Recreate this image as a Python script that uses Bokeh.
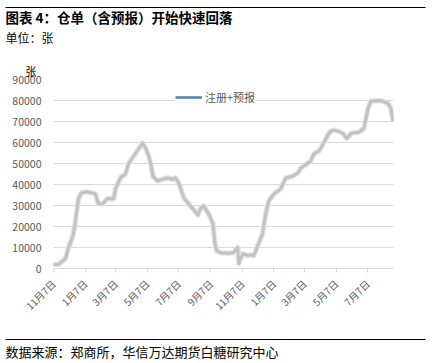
import math
import pandas as pd
from bokeh.plotting import figure
from bokeh.layouts import column
from bokeh.models import Range1d, FixedTicker, Legend, LegendItem, ColumnDataSource
from bokeh.core.properties import value
from bokeh.embed import file_html
from bokeh.resources import INLINE

# ---------------- data ----------------
dates = [
    "2016-11-07", "2016-11-17", "2016-11-24", "2016-11-30", "2016-12-06", "2016-12-14",
    "2016-12-18", "2016-12-22", "2016-12-25", "2016-12-31", "2017-01-10", "2017-01-21",
    "2017-01-27", "2017-01-31", "2017-02-02", "2017-02-10", "2017-02-16", "2017-02-19",
    "2017-03-03", "2017-03-07", "2017-03-11", "2017-03-17", "2017-03-26", "2017-04-01",
    "2017-04-11", "2017-04-20", "2017-04-28", "2017-05-04", "2017-05-10", "2017-05-14",
    "2017-05-18", "2017-05-27", "2017-06-08", "2017-06-16", "2017-06-25", "2017-07-01",
    "2017-07-07", "2017-07-17", "2017-07-26", "2017-08-05", "2017-08-13", "2017-08-18",
    "2017-08-24", "2017-09-03", "2017-09-11", "2017-09-15", "2017-09-18", "2017-09-26",
    "2017-10-12", "2017-10-21", "2017-10-29", "2017-10-31", "2017-11-04", "2017-11-08",
    "2017-11-17", "2017-11-23", "2017-11-29", "2017-12-09", "2017-12-16", "2017-12-22",
    "2017-12-28", "2018-01-07", "2018-01-20", "2018-01-30", "2018-02-12", "2018-02-22",
    "2018-02-28", "2018-03-10", "2018-03-19", "2018-03-25", "2018-04-04", "2018-04-08",
    "2018-04-13", "2018-04-23", "2018-05-01", "2018-05-11", "2018-05-20", "2018-05-28",
    "2018-06-05", "2018-06-20", "2018-06-30", "2018-07-08", "2018-07-13", "2018-08-02",
    "2018-08-15", "2018-08-21", "2018-08-25",
]
warrants = [
    1900, 1900, 3500, 4700, 10000, 15000,
    20000, 27500, 33000, 36000, 36500, 36000,
    35500, 32000, 30800, 30800, 32500, 33200,
    33200, 38000, 40300, 43500, 45000, 50000,
    53500, 56800, 59700, 57300, 53500, 50000,
    44000, 41700, 42600, 43100, 42500, 43100,
    40700, 33600, 30800, 28000, 25500, 28500,
    29800, 26000, 21300, 12000, 8500, 7500,
    7300, 7600, 10000, 2400, 5000, 7100,
    6200, 6500, 6200, 12300, 16600, 26000,
    32200, 35500, 37900, 43100, 44000, 45500,
    47800, 49500, 51200, 54500, 56000, 57500,
    59700, 64400, 66000, 65400, 64400, 62000,
    64400, 64900, 66800, 76300, 79600, 80000,
    78600, 76300, 70100,
]
tick_dates = ["2016-11-07", "2017-01-07", "2017-03-07", "2017-05-07", "2017-07-07",
              "2017-09-07", "2017-11-07", "2018-01-07", "2018-03-07", "2018-05-07",
              "2018-07-07"]
tick_labels = ["11月7日", "1月7日", "3月7日", "5月7日", "7月7日", "9月7日",
               "11月7日", "1月7日", "3月7日", "5月7日", "7月7日"]
axis_end_date = "2018-08-26"
y_ticks = [0, 10000, 20000, 30000, 40000, 50000, 60000, 70000, 80000, 90000]
series_name = "注册+预报"
title_text = "图表 4：仓单（含预报）开始快速回落"
unit_text = "单位：张"
y_unit = "张"
source_text = "数据来源：郑商所，华信万达期货白糖研究中心"

start = pd.Timestamp(dates[0])
xs = [(pd.Timestamp(d) - start).days for d in dates]
tick_x = [(pd.Timestamp(d) - start).days for d in tick_dates]
x_end = (pd.Timestamp(axis_end_date) - start).days

CJK = "Noto Sans CJK SC"
GRAY_TXT = "#595959"
W = 438


def blank(height):
    f = figure(width=W, height=height, output_backend="svg", toolbar_location=None,
               x_range=Range1d(0, W), y_range=Range1d(height, 0),
               x_axis_location=None, y_axis_location=None, frame_align=False,
               min_border=0, min_border_left=0, min_border_right=0,
               min_border_top=0, min_border_bottom=0)
    f.grid.visible = False
    f.outline_line_color = None
    f.background_fill_color = "white"
    f.border_fill_color = "white"
    return f


# ---------------- header ----------------
HEAD_H = 60
head = blank(HEAD_H)
head.segment(x0=[5], y0=[7], x1=[425], y1=[7], line_color="black", line_width=1.2)
head.text(x=[5], y=[16.5], text=[title_text], text_font=value(CJK), text_font_size="13.5px",
          text_font_style="bold", text_color="black", text_baseline="middle")
head.text(x=[5], y=[37], text=[unit_text], text_font=value(CJK), text_font_size="12px",
          text_color="black", text_baseline="middle")

# ---------------- main chart ----------------
MAIN_H = 265
p = figure(width=W, height=MAIN_H, output_backend="svg", toolbar_location=None,
           x_range=Range1d(0, x_end), y_range=Range1d(0, 90000), frame_align=False,
           min_border_left=53, min_border_right=45, min_border_top=18,
           min_border_bottom=57, title=y_unit)
p.title.align = "left"
p.title.offset = -28
p.title.standoff = 1
p.title.text_font = CJK
p.title.text_font_size = "11px"
p.title.text_font_style = "normal"
p.title.text_color = "black"
p.outline_line_color = None
p.background_fill_color = "white"
p.border_fill_color = "white"

p.xgrid.grid_line_color = None
p.ygrid.grid_line_color = "#d9d9d9"
p.ygrid.grid_line_width = 1
p.yaxis.ticker = FixedTicker(ticks=y_ticks)
p.xaxis.ticker = FixedTicker(ticks=tick_x)
p.xaxis.major_label_overrides = {t: l for t, l in zip(tick_x, tick_labels)}

p.yaxis.axis_line_color = None
p.yaxis.major_tick_line_color = None
p.yaxis.minor_tick_line_color = None
p.yaxis.major_label_text_font = CJK
p.yaxis.major_label_text_font_size = "10.5px"
p.yaxis.major_label_text_color = GRAY_TXT
p.yaxis.major_label_standoff = 6

p.xaxis.axis_line_color = "#d9d9d9"
p.xaxis.major_tick_line_color = "#d9d9d9"
p.xaxis.major_tick_out = 4
p.xaxis.major_tick_in = 0
p.xaxis.minor_tick_line_color = None
p.xaxis.major_label_orientation = math.pi / 4
p.xaxis.major_label_text_font = CJK
p.xaxis.major_label_text_font_size = "10px"
p.xaxis.major_label_text_color = GRAY_TXT
p.xaxis.major_label_standoff = 9

src = ColumnDataSource(dict(x=xs, y=warrants))
# series line (blue in legend), overdrawn by the soft grey look of the reference
blue = p.line("x", "y", source=src, line_color="#4f81bd", line_width=2.5)
p.line("x", "y", source=src, line_color="#e4e4e4", line_width=5.5, line_join="round")
p.line("x", "y", source=src, line_color="#c2c2c2", line_width=3, line_join="round")

legend = Legend(items=[LegendItem(label=series_name, renderers=[blue])],
                location=(122, 163), glyph_width=27, glyph_height=14,
                label_text_font=CJK, label_text_font_size="11px",
                label_text_color=GRAY_TXT, label_standoff=3, padding=0, margin=0,
                border_line_color=None, background_fill_color="white",
                background_fill_alpha=1.0, label_height=14)
p.add_layout(legend)

# ---------------- footer ----------------
FOOT_H = 363 - HEAD_H - MAIN_H
foot = blank(FOOT_H)
foot.segment(x0=[5], y0=[14], x1=[425], y1=[14], line_color="black", line_width=1.2)
foot.text(x=[5], y=[25.5], text=[source_text], text_font=value(CJK), text_font_size="13px",
          text_color="black", text_baseline="middle")

layout = column(head, p, foot, spacing=0)
open("out.html", "w").write(file_html(layout, INLINE))
